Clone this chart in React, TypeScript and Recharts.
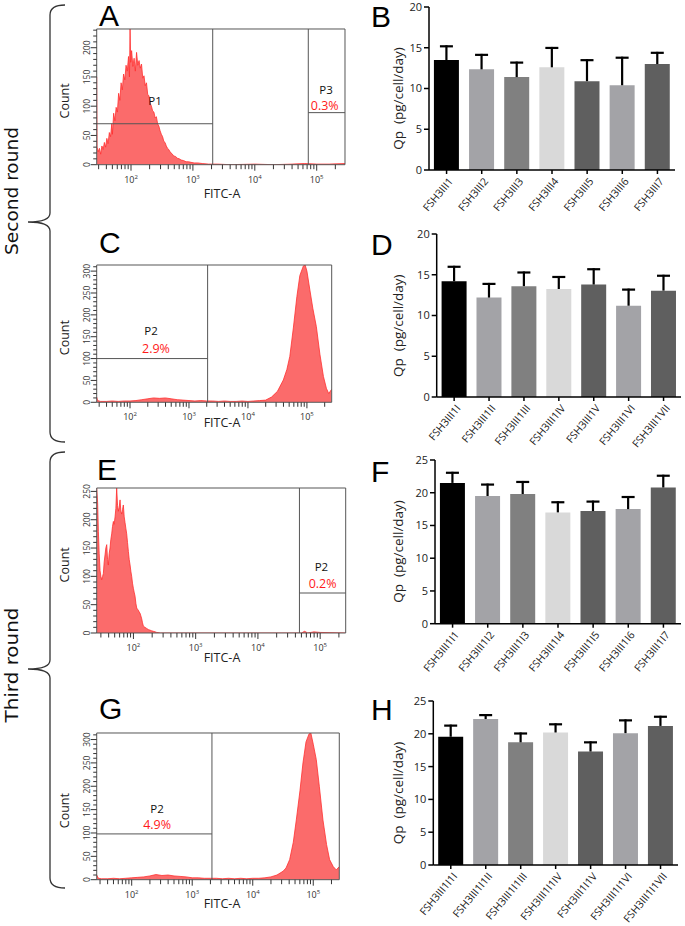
import React from 'react';
import { AreaChart, Area, XAxis, YAxis, ReferenceLine, ReferenceArea, ReferenceDot, BarChart, Bar, Cell } from 'recharts';

// ---------- Flow cytometry histograms (x = log10 FITC-A, y = count) ----------
const histA_log = [1.446,1.452,1.47,1.49,1.51,1.53,1.55,1.57,1.59,1.61,1.63,1.65,1.67,1.69,1.70,1.72,1.74,1.76,1.78,1.80,1.82,1.84,1.86,1.88,1.90,1.92,1.94,1.96,1.975,1.985,1.995,2.01,2.03,2.05,2.07,2.09,2.11,2.13,2.15,2.17,2.19,2.21,2.23,2.25,2.27,2.29,2.31,2.33,2.35,2.37,2.39,2.41,2.43,2.45,2.47,2.49,2.51,2.53,2.55,2.57,2.59,2.61,2.63,2.66,2.69,2.72,2.75,2.78,2.81,2.85,2.89,2.93,2.97,3.02,3.08,3.15,3.25,3.4,3.6,4.0,4.3,4.6,4.8,5.0,5.2,5.457];
const histA_count = [150,30,22,28,18,32,26,38,30,45,36,55,48,70,52,88,75,98,90,122,110,140,128,155,145,170,160,185,150,232,175,195,168,182,160,192,170,178,165,172,148,152,135,140,120,118,105,100,92,90,80,82,70,66,58,52,48,40,38,32,28,26,22,19,15,14,11,10,8,7,5,5,4,3,3,2,1,1,0,1,0,1,2,1,1,2];

const histC_log = [1.435,1.45,1.5,1.6,1.7,1.8,1.9,2.0,2.1,2.2,2.3,2.4,2.5,2.6,2.7,2.8,2.9,3.0,3.1,3.2,3.3,3.4,3.5,3.6,3.7,3.8,3.9,4.0,4.1,4.2,4.3,4.4,4.5,4.6,4.66,4.71,4.77,4.83,4.88,4.94,4.97,5.0,5.05,5.1,5.16,5.22,5.28,5.33,5.37,5.42];
const histC_count = [12,4,2,2,3,2,3,3,4,6,8,10,9,10,8,6,5,4,3,4,3,3,2,3,2,2,3,2,3,4,5,12,25,51,75,105,170,242,290,312,314,300,257,215,173,110,59,32,20,30];

const histE_log = [1.41,1.425,1.437,1.45,1.464,1.477,1.49,1.505,1.517,1.53,1.544,1.557,1.571,1.584,1.597,1.61,1.624,1.637,1.651,1.664,1.678,1.69,1.705,1.718,1.731,1.745,1.758,1.772,1.785,1.798,1.812,1.825,1.838,1.852,1.865,1.878,1.892,1.905,1.919,1.932,1.946,1.96,1.972,1.985,1.999,2.012,2.026,2.04,2.053,2.066,2.08,2.093,2.106,2.12,2.133,2.146,2.16,2.185,2.213,2.24,2.267,2.29,2.32,2.35,2.374,2.43,3.0,4.0,4.7,4.75,4.8,4.9,5.0,5.41];
const histE_count = [256,230,179,140,110,100,94,100,105,125,138,150,156,130,120,140,150,165,175,188,197,192,205,220,256,225,215,222,235,215,210,218,226,205,195,185,175,160,144,130,120,108,100,88,79,72,65,52,44,42,40,37,35,30,25,18,12,10,8,6,5,4,3,2,1,0,0,0,0,3,0,2,1,0];

const histG_log = [1.422,1.45,1.5,1.6,1.7,1.8,1.9,2.0,2.1,2.2,2.3,2.4,2.5,2.6,2.7,2.8,2.9,3.0,3.1,3.2,3.3,3.4,3.5,3.6,3.7,3.8,3.9,4.0,4.1,4.2,4.3,4.4,4.5,4.55,4.61,4.67,4.72,4.78,4.83,4.88,4.93,4.96,5.0,5.05,5.1,5.16,5.22,5.27,5.33,5.38,5.43];
const histG_count = [10,3,2,2,3,2,3,4,5,6,8,11,9,10,8,7,6,4,4,3,3,3,2,3,2,3,2,3,3,4,6,10,18,25,43,80,128,190,250,295,312,314,290,257,200,128,75,43,28,21,28];

const histMajorExp = [2, 3, 4, 5];
const histMinorMult = [2, 3, 4, 5, 6, 7, 8, 9];

// ---------- Qp bar charts ----------
const barColors = ['#000000', '#a3a3a7', '#808080', '#d9d9d9', '#5f5f5f', '#a3a3a7', '#5f5f5f'];

const namesB = ['FSH3III1', 'FSH3III2', 'FSH3III3', 'FSH3III4', 'FSH3III5', 'FSH3III6', 'FSH3III7'];
const qpB = [13.5, 12.35, 11.4, 12.6, 10.9, 10.4, 13.0];
const errB = [1.8, 1.9, 1.9, 2.5, 2.7, 3.5, 1.5];

const namesD = ['FSH3III1I', 'FSH3III1II', 'FSH3III1III', 'FSH3III1IV', 'FSH3III1V', 'FSH3III1VI', 'FSH3III1VII'];
const qpD = [14.2, 12.2, 13.6, 13.25, 13.8, 11.2, 13.05];
const errD = [1.9, 1.8, 1.8, 1.6, 2.0, 2.1, 1.95];

const namesF = ['FSH3III1I1', 'FSH3III1I2', 'FSH3III1I3', 'FSH3III1I4', 'FSH3III1I5', 'FSH3III1I6', 'FSH3III1I7'];
const qpF = [21.5, 19.5, 19.8, 17.0, 17.2, 17.5, 20.8];
const errF = [1.7, 1.9, 2.0, 1.7, 1.6, 2.0, 1.95];

const namesH = ['FSH3III1I1I', 'FSH3III1I1II', 'FSH3III1I1III', 'FSH3III1I1IV', 'FSH3III1I1V', 'FSH3III1I1VI', 'FSH3III1I1VII'];
const qpH = [19.55, 22.25, 18.7, 20.2, 17.3, 20.1, 21.2];
const errH = [1.85, 0.75, 1.5, 1.4, 1.55, 2.1, 1.55];

const yTicks20 = [0, 5, 10, 15, 20];
const yTicks25 = [0, 5, 10, 15, 20, 25];

const SANS = '"Open Sans", "DejaVu Sans", sans-serif';

type Box = { l: number; t: number; r: number; b: number };

const HistXTick = (props: any) => {
  const { x, y, payload } = props;
  const v = payload.value;
  const maj = histMajorExp.some((e) => Math.abs(v - e) < 1e-6);
  const isDecade = Math.abs(v - Math.round(v)) < 1e-6;
  return (
    <g>
      <line x1={x} y1={y} x2={x} y2={y + (isDecade ? 6 : 4.5)} stroke="#333" strokeWidth={1} />
      {maj && (
        <text x={x} y={y + 18} textAnchor="middle" fontSize={9} fill="#333" fontFamily={SANS}>
          10<tspan dy={-4} fontSize={6}>{Math.round(v)}</tspan>
        </text>
      )}
    </g>
  );
};

const HistYTick = (props: any) => {
  const { x, y, payload } = props;
  const v = payload.value;
  const maj = v % 50 === 0;
  return (
    <g>
      <line x1={x} y1={y} x2={x - (maj ? 6 : 3.5)} y2={y} stroke="#333" strokeWidth={1} />
      {maj && (
        <text x={x - 10.5} y={y} transform={`rotate(-90 ${x - 10.5} ${y})`} textAnchor="middle" dominantBaseline="central" fontSize={8.5} fill="#333" fontFamily={SANS}>
          {v}
        </text>
      )}
    </g>
  );
};

type Note = { x: number; y: number; text: string; red?: boolean };

function Histo(p: {
  box: Box; xDom: [number, number]; yMax: number; logs: number[]; counts: number[];
  vGates: number[]; hGates: [number, number, number][]; notes: Note[];
}) {
  const { box, xDom, yMax } = p;
  const cl = 50, ct = box.t - 10;
  const w = box.r - cl + 10, h = box.b - ct + 25;
  const data = p.logs.map((x, i) => ({ x, y: p.counts[i] }));
  const xt: number[] = [];
  for (let d = 1; d <= 5; d++) {
    xt.push(d);
    histMinorMult.forEach((m) => xt.push(d + Math.log10(m)));
  }
  const xTicks = xt.filter((v) => v >= xDom[0] && v <= xDom[1]);
  const yTicks: number[] = [];
  for (let v = 0; v <= yMax; v += 10) yTicks.push(v);
  return (
    <div style={{ position: 'absolute', left: cl, top: ct }}>
      <AreaChart width={w} height={h} data={data} margin={{ top: 10, right: 10, left: 0, bottom: 0 }}>
        <XAxis type="number" dataKey="x" domain={xDom} allowDataOverflow ticks={xTicks} interval={0}
          tick={(tp: any) => <HistXTick {...tp} />} tickLine={false} axisLine={false} tickSize={0} tickMargin={0} height={25} />
        <YAxis type="number" domain={[0, yMax]} allowDataOverflow ticks={yTicks} interval={0}
          tick={(tp: any) => <HistYTick {...tp} />} tickLine={false} axisLine={false} tickSize={0} tickMargin={0} width={box.l - cl} />
        <Area type="linear" dataKey="y" stroke="#ff3030" strokeWidth={0.8} fill="#fb6b6b" fillOpacity={1}
          isAnimationActive={false} dot={false} activeDot={false} />
        {p.vGates.map((g, i) => (
          <ReferenceLine key={'v' + i} x={g} stroke="#555" strokeWidth={1} />
        ))}
        {p.hGates.map((g, i) => (
          <ReferenceLine key={'h' + i} segment={[{ x: g[0], y: g[2] }, { x: g[1], y: g[2] }]} stroke="#555" strokeWidth={1} />
        ))}
        <ReferenceArea x1={xDom[0]} x2={xDom[1]} y1={0} y2={yMax} fill="none" stroke="#555" strokeWidth={1} ifOverflow="visible" />
        {p.notes.map((n, i) => (
          <ReferenceDot key={'n' + i} x={n.x} y={n.y} r={1}
            shape={(sp: any) => (
              <text x={sp.cx} y={sp.cy} textAnchor="middle" dominantBaseline="central"
                fontSize={n.red ? 12.5 : 11.5} fill={n.red ? '#ff1a1a' : '#111'} fontFamily={SANS}>
                {n.text}
              </text>
            )} />
        ))}
      </AreaChart>
    </div>
  );
}

const BarXTick = (props: any) => {
  const { x, y, payload } = props;
  const ax = x + 4, ay = y + 3;
  return (
    <text x={ax} y={ay} transform={`rotate(-50 ${ax} ${ay})`} textAnchor="end" dominantBaseline="central"
      fontSize={10.5} fill="#222" fontFamily={SANS}>
      {payload.value}
    </text>
  );
};

const ErrShape = (props: any) => {
  const { x, y, width, height } = props;
  const cx = x + width / 2;
  return (
    <g>
      <line x1={cx} y1={y + height} x2={cx} y2={y} stroke="#000" strokeWidth={2.2} />
      <line x1={cx - 6.5} x2={cx + 6.5} y1={y + 1} y2={y + 1} stroke="#000" strokeWidth={2.2} />
    </g>
  );
};

function QpBar(p: { box: Box; names: string[]; vals: number[]; errs: number[]; yMax: number; yTicks: number[] }) {
  const { box } = p;
  const cl = 380, ct = Math.max(0, box.t - 8);
  const mt = box.t - ct;
  const w = 685 - cl, h = box.b - ct + 60;
  const data = p.names.map((n, i) => ({ n, v: p.vals[i], e: p.errs[i] }));
  return (
    <div style={{ position: 'absolute', left: cl, top: ct }}>
      <BarChart width={w} height={h} data={data} margin={{ top: mt, right: w - (box.r - cl), left: 0, bottom: 0 }} barCategoryGap="14%">
        <XAxis dataKey="n" interval={0} tick={(tp: any) => <BarXTick {...tp} />} height={60}
          axisLine={{ stroke: '#000', strokeWidth: 1.5 }} tickLine={{ stroke: '#000', strokeWidth: 1.5 }} tickSize={4} />
        <YAxis type="number" domain={[0, p.yMax]} ticks={p.yTicks} interval={0} width={box.l - cl}
          axisLine={{ stroke: '#000', strokeWidth: 1.5 }} tickLine={{ stroke: '#000', strokeWidth: 1.5 }} tickSize={5}
          tick={{ fontSize: 11, fill: '#222', fontFamily: SANS }} />
        <Bar dataKey="v" stackId="s" isAnimationActive={false}>
          {data.map((_, i) => (
            <Cell key={i} fill={barColors[i]} />
          ))}
        </Bar>
        <Bar dataKey="e" stackId="s" isAnimationActive={false} shape={(sp: any) => <ErrShape {...sp} />} />
      </BarChart>
    </div>
  );
}

const boxA: Box = { l: 96.7, t: 29, r: 345, b: 164.7 };
const boxC: Box = { l: 96.7, t: 265, r: 331.7, b: 402.3 };
const boxE: Box = { l: 96.7, t: 488.3, r: 345.7, b: 633.3 };
const boxG: Box = { l: 96.7, t: 733.3, r: 339.3, b: 880 };

const boxB: Box = { l: 429, t: 7, r: 675, b: 170 };
const boxD: Box = { l: 436.7, t: 234.3, r: 681, b: 397.3 };
const boxF: Box = { l: 435, t: 459.6, r: 681, b: 623.3 };
const boxH: Box = { l: 433.3, t: 701, r: 678, b: 865 };

function bracePath(top: number, tip: number, bottom: number) {
  const x = 50, tx = 28, hx = 65;
  return `M${hx},${top} Q${x},${top} ${x},${top + 10} L${x},${tip - 9} Q${x},${tip} ${tx},${tip} Q${x},${tip} ${x},${tip + 9} L${x},${bottom - 10} Q${x},${bottom} ${hx},${bottom}`;
}

const ROUND_FONT = '"DejaVu Sans Condensed", "Liberation Sans Narrow", "Noto Sans", sans-serif';

export default function App() {
  const letters = [
    { t: 'A', x: 99, y: 26 }, { t: 'B', x: 371, y: 27 },
    { t: 'C', x: 99, y: 253 }, { t: 'D', x: 371, y: 255 },
    { t: 'E', x: 97, y: 480 }, { t: 'F', x: 371, y: 482 },
    { t: 'G', x: 99, y: 719 }, { t: 'H', x: 371, y: 720 },
  ];
  const countLabels = [boxA, boxC, boxE, boxG].map((b) => (b.t + b.b) / 2 + 4);
  const fitcY = [193, 422, 657, 903];
  const qpLabels = [boxB, boxD, boxF, boxH].map((b) => (b.t + b.b) / 2 + 10);
  return (
    <div style={{ position: 'absolute', left: 0, top: 0, width: 685, height: 926, background: '#fff', overflow: 'hidden' }}>
      <Histo box={boxA} xDom={[1.446, 5.457]} yMax={232} logs={histA_log} counts={histA_count}
        vGates={[3.32, 4.864]} hGates={[[1.446, 3.32, 70], [4.864, 5.457, 89]]}
        notes={[{ x: 2.388, y: 110, text: 'P1' }, { x: 5.15, y: 129, text: 'P3' }, { x: 5.13, y: 102, text: '0.3%', red: true }]} />
      <Histo box={boxC} xDom={[1.435, 5.42]} yMax={314} logs={histC_log} counts={histC_count}
        vGates={[3.316]} hGates={[[1.435, 3.316, 100]]}
        notes={[{ x: 2.356, y: 165, text: 'P2' }, { x: 2.44, y: 124, text: '2.9%', red: true }]} />
      <Histo box={boxE} xDom={[1.41, 5.41]} yMax={256} logs={histE_log} counts={histE_count}
        vGates={[4.667]} hGates={[[4.667, 5.41, 70.6]]}
        notes={[{ x: 5.02, y: 118, text: 'P2' }, { x: 5.04, y: 88, text: '0.2%', red: true }]} />
      <Histo box={boxG} xDom={[1.422, 5.43]} yMax={314} logs={histG_log} counts={histG_count}
        vGates={[3.326]} hGates={[[1.422, 3.326, 98]]}
        notes={[{ x: 2.42, y: 153, text: 'P2' }, { x: 2.42, y: 118, text: '4.9%', red: true }]} />

      <QpBar box={boxB} names={namesB} vals={qpB} errs={errB} yMax={20} yTicks={yTicks20} />
      <QpBar box={boxD} names={namesD} vals={qpD} errs={errD} yMax={20} yTicks={yTicks20} />
      <QpBar box={boxF} names={namesF} vals={qpF} errs={errF} yMax={25} yTicks={yTicks25} />
      <QpBar box={boxH} names={namesH} vals={qpH} errs={errH} yMax={25} yTicks={yTicks25} />

      <svg width={685} height={926} style={{ position: 'absolute', left: 0, top: 0, pointerEvents: 'none' }}>
        <path d={bracePath(5, 222, 442)} fill="none" stroke="#333" strokeWidth={1.3} />
        <path d={bracePath(452, 669, 888)} fill="none" stroke="#333" strokeWidth={1.3} />
        <text x={18} y={191} transform="rotate(-90 18 191)" textAnchor="middle" fontSize={18.5} fill="#111"
          fontFamily={ROUND_FONT} textLength={128} lengthAdjust="spacingAndGlyphs">
          Second round
        </text>
        <text x={18} y={665} transform="rotate(-90 18 665)" textAnchor="middle" fontSize={18.5} fill="#111"
          fontFamily={ROUND_FONT} textLength={115} lengthAdjust="spacingAndGlyphs">
          Third round
        </text>
        {letters.map((l) => (
          <text key={l.t} x={l.x} y={l.y} fontSize={30} fill="#000" fontFamily='"Liberation Sans", Arial, sans-serif'>{l.t}</text>
        ))}
        {countLabels.map((cy, i) => (
          <text key={'c' + i} x={65} y={cy} transform={`rotate(-90 65 ${cy})`} textAnchor="middle" dominantBaseline="central"
            fontSize={12.5} fill="#222" fontFamily={SANS}>Count</text>
        ))}
        {fitcY.map((fy, i) => (
          <text key={'f' + i} x={222} y={fy} textAnchor="middle" dominantBaseline="central" fontSize={12.5} fill="#222" fontFamily={SANS}>FITC-A</text>
        ))}
        {qpLabels.map((qy, i) => (
          <text key={'q' + i} x={398} y={qy} transform={`rotate(-90 398 ${qy})`} textAnchor="middle" dominantBaseline="central"
            fontSize={13.5} fill="#222" fontFamily={SANS} style={{ whiteSpace: 'pre' }}>{'Qp  (pg/cell/day)'}</text>
        ))}
      </svg>
    </div>
  );
}
